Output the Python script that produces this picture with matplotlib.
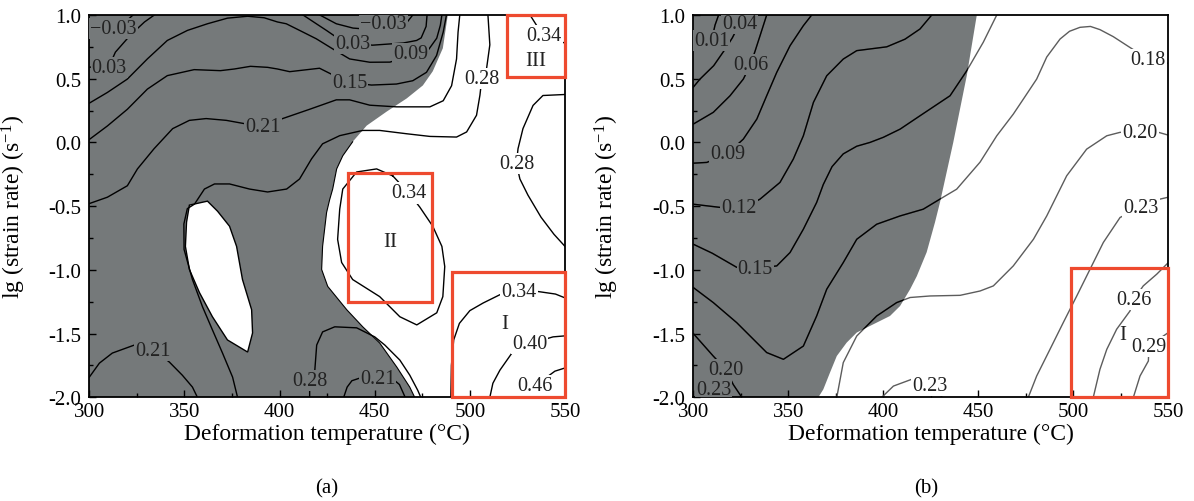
import matplotlib
matplotlib.use('Agg')
import matplotlib.pyplot as plt
from matplotlib.patches import Polygon, Rectangle
from matplotlib.path import Path
from matplotlib.ticker import MultipleLocator

plt.rcParams['font.family'] = ['Liberation Serif', 'DejaVu Serif']
plt.rcParams['mathtext.fontset'] = 'custom'
plt.rcParams['mathtext.rm'] = 'Liberation Serif'
plt.rcParams['mathtext.it'] = 'Liberation Serif:italic'

GRAY = '#75797a'
RED = '#ee4a2f'

# ---------------- panel (a) ----------------
# edge of the unstable (gray) domain, top -> bottom
a_edge = [(488.4, 1.0), (485.8, 0.739), (480.5, 0.558), (475.3, 0.447), (466.8, 0.345),
          (456.3, 0.242), (445.8, 0.132), (438.4, 0.005), (433.2, -0.105), (430.0, -0.208),
          (427.9, -0.366), (426.3, -0.45), (424.7, -0.55), (422.6, -0.816), (422.1, -0.997),
          (425.3, -1.13), (435.3, -1.313), (443.7, -1.447), (452.6, -1.574), (461.6, -1.763),
          (468.4, -1.92), (471.0, -2.0)]
# stable island inside the gray domain
a_island = [(352.6, -0.492), (362.1, -0.461), (367.4, -0.540), (373.7, -0.658), (377.4, -0.816),
            (380.5, -1.076), (385.3, -1.313), (385.8, -1.495), (383.2, -1.645), (372.6, -1.55),
            (364.7, -1.368), (357.9, -1.179), (352.6, -0.997), (350.5, -0.816), (351.1, -0.626)]

# efficiency iso-lines (T, lg strain rate)
a_m003_corner = [(300, 0.85), (312, 0.90), (320, 0.96), (323, 1.0)]
a_003_left = [(300, 0.59), (310.5, 0.60), (313.7, 0.708), (321.6, 0.842), (329, 0.945), (334.2, 1.0)]
a_m003_top = [(421.1, 1.0), (429.8, 0.931), (438.6, 0.897), (443, 0.892), (454.5, 0.90),
              (465.8, 0.92), (470, 1.0)]
a_003_top = [(412.3, 1.0), (419.3, 0.931), (424.6, 0.879), (429, 0.834), (438.4, 0.775),
             (448.9, 0.763), (465, 0.78), (472, 0.80), (474.4, 0.82), (477, 0.91), (477.5, 1.0)]
a_009 = [(300, 0.308), (309.5, 0.392), (320, 0.497), (330.5, 0.655), (341, 0.80), (351.6, 0.879),
         (362.1, 0.931), (372.6, 0.975), (383.2, 0.99), (391.9, 0.978), (398.9, 0.945),
         (403.5, 0.931), (410.5, 0.879), (419.3, 0.813), (427.9, 0.734), (436.8, 0.655),
         (447.4, 0.629), (458, 0.63), (468.9, 0.68), (477.9, 0.72), (482.6, 0.818),
         (484.5, 0.92), (485.3, 1.0)]
a_015 = [(300, 0.023), (309.5, 0.129), (320, 0.26), (330.5, 0.418), (341, 0.524), (355.1, 0.571),
         (368.9, 0.563), (376.2, 0.576), (384.7, 0.597), (393.7, 0.589), (398.9, 0.576),
         (405.3, 0.555), (421, 0.582), (427, 0.537), (436.8, 0.471), (448.3, 0.45),
         (461.4, 0.458), (470, 0.484), (477.2, 0.55), (482.5, 0.682), (486, 0.866), (487.7, 1.0)]
a_021 = [(300, -0.48), (309.5, -0.43), (320, -0.34), (325.3, -0.208), (334, -0.05),
         (343.8, 0.108), (352.6, 0.173), (361.4, 0.187), (372, 0.173), (381.6, 0.147),
         (391.3, 0.128), (401.6, 0.187), (415.8, 0.26), (429.8, 0.334), (436.8, 0.334),
         (447.4, 0.292), (461.4, 0.279), (479, 0.279), (486, 0.327), (490.4, 0.445),
         (493, 0.655), (493.8, 0.866), (494.7, 1.0)]
a_021_low = [(300, -1.842), (305.3, -1.732), (312.1, -1.653), (323.7, -1.59), (333.2, -1.62),
             (342.1, -1.724), (348.9, -1.827), (354.2, -1.92), (356.8, -2.0)]
a_021_bottom = [(433.7, -2.0), (435.5, -1.92), (438, -1.87), (444, -1.84), (452, -1.835),
                (459, -1.85), (463, -1.9), (466, -2.0)]
a_028 = [(377.9, -2.0), (375.3, -1.842), (370, -1.653), (364.7, -1.471), (359.5, -1.29),
         (354.2, -1.076), (349.8, -0.84), (349.7, -0.64), (351.5, -0.52), (355.3, -0.484),
         (360.5, -0.366), (365.8, -0.326), (373.7, -0.326), (384.2, -0.366), (393.7, -0.389),
         (403.7, -0.366), (410.5, -0.287), (416.8, -0.129), (422.6, -0.011), (431.6, 0.053),
         (443.7, 0.094), (452.6, 0.094), (466.7, 0.068), (479, 0.047), (493, 0.042),
         (498.3, 0.082), (503.5, 0.213), (505.3, 0.371), (506.3, 0.503), (508.8, 0.582),
         (510.5, 0.766), (509.5, 1.0)]
a_028_bottom = [(415.8, -2.0), (415.8, -1.87), (418.4, -1.81), (419.5, -1.59), (422.6, -1.487),
                (429, -1.447), (440.5, -1.455), (450, -1.526), (455.3, -1.59), (463.2, -1.708),
                (468.4, -1.826), (472.6, -1.945), (474.2, -2.0)]
a_028_right = [(550, 0.376), (538.4, 0.368), (533.2, 0.29), (527.9, 0.108), (525.3, -0.05),
               (524.5, -0.168), (526.3, -0.287), (530.5, -0.413), (537.4, -0.587),
               (544.2, -0.721), (550, -0.816)]
a_034_loop = [(459.5, -0.263), (451, -0.208), (440.5, -0.232), (433.2, -0.366), (431.6, -0.524),
              (430.5, -0.761), (432.6, -0.942), (438.4, -1.076), (452.6, -1.21), (463.2, -1.368),
              (472.1, -1.432), (482.6, -1.337), (485.8, -1.21), (486.8, -0.974), (485.3, -0.816),
              (480.5, -0.658), (473.7, -0.508), (467.9, -0.397), (459.5, -0.263)]
a_034_low = [(490, -2.0), (490.3, -1.75), (491.5, -1.55), (494.5, -1.42), (500, -1.32),
             (507, -1.26), (515.8, -1.195), (525.8, -1.17), (535.8, -1.17), (545, -1.19),
             (550, -1.22)]
a_034_top = [(531.6, 1.0), (535, 0.92), (539, 0.842), (545, 0.80), (550, 0.78)]
a_040 = [(510.5, -2.0), (512.1, -1.89), (515.8, -1.787), (522.1, -1.653), (531.3, -1.58),
         (543.7, -1.526), (550, -1.518)]
a_046 = [(524.7, -2.0), (534.2, -1.91), (544.7, -1.795), (550, -1.77)]

a_labels = [('\u22120.03', 312.6, 0.89), ('0.03', 310.5, 0.59), ('\u22120.03', 454.5, 0.93),
            ('0.03', 438.4, 0.775), ('0.09', 468.9, 0.70), ('0.15', 436.8, 0.471),
            ('0.21', 391.3, 0.128), ('0.28', 506.3, 0.503), ('0.34', 539, 0.842),
            ('0.28', 524.5, -0.168), ('0.34', 467.9, -0.397), ('0.34', 525.8, -1.17),
            ('0.40', 531.3, -1.58), ('0.46', 534.2, -1.91), ('0.21', 333.2, -1.63),
            ('0.28', 415.8, -1.87), ('0.21', 451.6, -1.85)]
a_regions = [('III', 534.7, 0.645), ('II', 457.9, -0.776), ('I', 518.4, -1.42)]
# domains (x0, y0, width, height)
a_boxes = [(519.5, 0.515, 30.5, 0.485), (435.8, -1.25, 44.2, 1.011), (490.5, -2.0, 59.5, 0.987)]

# ---------------- panel (b) ----------------
b_edge = [(449.2, 1.0), (443.9, 0.523), (436.8, 0.0), (429.8, -0.471), (427.2, -0.626),
          (422.8, -0.862), (417.6, -1.05), (414.1, -1.152), (408.8, -1.284), (403.5, -1.362),
          (393.0, -1.44), (386.0, -1.492), (380.7, -1.571), (375.5, -1.676), (371.9, -1.807),
          (368.4, -1.938), (365.8, -2.0)]

b_001 = [(300, 0.76), (309.6, 0.80), (311.4, 0.92), (313.3, 1.0)]
b_004 = [(300, 0.434), (303.5, 0.497), (310.7, 0.602), (316.8, 0.733), (320.5, 0.82),
         (324.3, 0.93), (327, 1.0)]
b_006 = [(300, 0.144), (310.5, 0.236), (319.3, 0.366), (326.3, 0.497), (330.1, 0.611),
         (332.5, 0.717), (335.1, 0.837), (338.6, 1.0)]
b_009 = [(300, -0.163), (307.1, -0.157), (318, -0.088), (326.3, 0.026), (333.4, 0.183),
         (338.6, 0.366), (343.9, 0.55), (350.9, 0.759), (357.9, 0.916), (362.3, 1.0)]
b_012 = [(300, -0.485), (314.1, -0.51), (324.1, -0.508), (333.4, -0.459), (335.1, -0.445),
         (345.6, -0.314), (352.6, -0.131), (357.9, 0.052), (363.2, 0.314), (370.2, 0.523),
         (378.9, 0.654), (386, 0.72), (401.8, 0.75), (411.4, 0.81), (419.3, 0.89), (425.5, 1.0)]
b_015 = [(300, -0.799), (310, -0.87), (322.8, -0.98), (332.6, -0.99), (343.9, -0.969),
         (350.9, -0.864), (357.9, -0.681), (364.9, -0.471), (368.4, -0.33), (373, -0.19),
         (378.9, -0.09), (386, -0.03), (393, 0.0), (400, 0.04), (408.8, 0.104), (419.3, 0.209),
         (435.1, 0.366), (443.9, 0.562), (452.6, 0.786), (459.7, 1.0)]
b_018 = [(300, -1.139), (310.5, -1.257), (322.8, -1.414), (338.6, -1.649), (347.4, -1.702),
         (357.9, -1.598), (364.9, -1.362), (370.2, -1.152), (378.9, -0.943), (386, -0.76),
         (396.5, -0.642), (408.8, -0.577), (421, -0.524), (429.8, -0.445), (438.6, -0.367),
         (450.9, -0.155), (459.7, 0.052), (468.4, 0.222), (473.7, 0.34), (480.7, 0.497),
         (486, 0.67), (493, 0.811), (498, 0.872), (503.5, 0.903), (509, 0.91), (514, 0.885),
         (521, 0.83), (529.8, 0.745), (539.3, 0.654), (550, 0.62)]
b_020_left = [(300, -1.50), (310.5, -1.677), (317, -1.78), (321, -1.90), (325.5, -2.0)]
b_020 = [(375.5, -2.0), (378.9, -1.728), (386, -1.519), (396.5, -1.362), (407, -1.257),
         (414.1, -1.217), (424.6, -1.205), (440.4, -1.2), (450.9, -1.166), (457.9, -1.126),
         (468.4, -0.969), (479, -0.76), (486, -0.577), (493, -0.367), (496.5, -0.262),
         (507, -0.053), (517.6, 0.052), (524.6, 0.079), (535.1, 0.081), (544.6, 0.08),
         (550, 0.057)]
b_023_bottom = [(399.2, -2.0), (405.3, -1.912), (415.8, -1.854), (424.6, -1.91), (431, -2.0)]
b_023 = [(476.3, -2.0), (480.7, -1.833), (487.7, -1.624), (494.7, -1.414), (501.8, -1.205),
         (508.8, -0.995), (515.8, -0.785), (524.6, -0.589), (535.6, -0.508), (545.6, -0.445),
         (550, -0.43)]
b_026 = [(510.5, -2.0), (514, -1.781), (517.6, -1.624), (522.8, -1.466), (529.8, -1.323),
         (531.9, -1.231), (536.8, -1.126), (543.9, -1.034), (550, -0.943)]
b_029 = [(531.6, -2.0), (535.1, -1.833), (539.5, -1.715), (539.8, -1.6), (547.4, -1.519),
         (550, -1.492)]

b_labels = [('0.04', 324.3, 0.93), ('0.01', 309.6, 0.80), ('0.06', 330.1, 0.611),
            ('0.09', 318, -0.088), ('0.12', 324.1, -0.508), ('0.15', 332.6, -0.99),
            ('0.20', 317, -1.78), ('0.23', 310.6, -1.94), ('0.18', 539.3, 0.654),
            ('0.20', 535.1, 0.081), ('0.23', 535.6, -0.508), ('0.26', 531.9, -1.231),
            ('0.29', 539.8, -1.6), ('0.23', 424.6, -1.91)]
b_regions = [('I', 526, -1.506)]
b_boxes = [(498.8, -2.0, 51.2, 1.018)]


def setup_axes(ax, ylabel_x):
    ax.set_xlim(300, 550)
    ax.set_ylim(-2.0, 1.0)
    ax.xaxis.set_major_locator(MultipleLocator(50))
    ax.xaxis.set_minor_locator(MultipleLocator(25))
    ax.yaxis.set_major_locator(MultipleLocator(0.5))
    ax.yaxis.set_minor_locator(MultipleLocator(0.25))
    ax.yaxis.set_major_formatter(matplotlib.ticker.FormatStrFormatter('%.1f'))
    ax.tick_params(which='both', direction='in', top=False, right=False, labelsize=15, width=1.0)
    ax.tick_params(which='major', length=5)
    ax.tick_params(which='minor', length=3)
    ax.tick_params(axis='y', pad=6)
    for s in ax.spines.values():
        s.set_linewidth(1.3)
    ax.set_xlabel('Deformation temperature (\u00b0C)', fontsize=17, labelpad=1)
    ax.set_ylabel('lg (strain rate) (s$^{-1}$)', fontsize=17)
    ax.yaxis.set_label_coords(ylabel_x, 0.5)


def add_labels(ax, labels, in_gray):
    for txt, x, y in labels:
        bg = GRAY if in_gray((x, y)) else 'white'
        ax.text(x, y, txt, ha='center', va='center', fontsize=14.5, color='#222222',
                bbox=dict(boxstyle='square,pad=0.05', fc=bg, ec='none'), zorder=4, clip_on=True)


def add_regions(ax, regions, boxes):
    for txt, x, y in regions:
        ax.text(x, y, txt, ha='center', va='center', fontsize=15, color='#222222', zorder=5)
    for x0, y0, w, h in boxes:
        ax.add_patch(Rectangle((x0, y0), w, h, fill=False, ec=RED, lw=2.3, zorder=6, clip_on=False))


fig = plt.figure(figsize=(11.94, 5.02), dpi=100)
ax_a = fig.add_axes([0.0748, 0.2066, 0.3984, 0.7616])
ax_b = fig.add_axes([0.5807, 0.2066, 0.3978, 0.7616])

# ---- (a)
ax_a.set_facecolor(GRAY)
white_a = [a_edge[0]] + a_edge + [(550, -2.0), (550, 1.0)]
ax_a.add_patch(Polygon(white_a, closed=True, fc='white', ec='none', zorder=0.5))
ax_a.add_patch(Polygon(a_island, closed=True, fc='white', ec='k', lw=1.0, zorder=0.6))
edge_T, edge_y = zip(*a_edge[7:])
ax_a.plot(edge_T, edge_y, color='k', lw=0.8, zorder=1)
white_path_a = Path(white_a)
island_path = Path(a_island)

a_lines = [a_m003_corner, a_003_left, a_m003_top, a_003_top, a_009, a_015, a_021, a_021_low,
           a_021_bottom, a_028, a_028_bottom, a_028_right, a_034_loop, a_034_low, a_034_top,
           a_040, a_046]
for line in a_lines:
    T, lgE = zip(*line)
    ax_a.plot(T, lgE, color='k', lw=1.0, zorder=2)

add_labels(ax_a, a_labels,
           lambda p: not (white_path_a.contains_point(p) or island_path.contains_point(p)))
add_regions(ax_a, a_regions, a_boxes)
setup_axes(ax_a, -0.128)

# ---- (b)
ax_b.set_facecolor('white')
gray_b = [(300, 1.0)] + b_edge + [(300, -2.0)]
gray_patch = Polygon(gray_b, closed=True, fc=GRAY, ec='none', zorder=0.5)
ax_b.add_patch(gray_patch)
gray_path_b = Path(gray_b)

b_lines = [b_001, b_004, b_006, b_009, b_012, b_015, b_018, b_020_left, b_020, b_023_bottom,
           b_023, b_026, b_029]
for line in b_lines:
    T, lgE = zip(*line)
    ax_b.plot(T, lgE, color='#5c5c5c', lw=1.0, zorder=2)
    dark, = ax_b.plot(T, lgE, color='k', lw=1.0, zorder=2.1)
    dark.set_clip_path(gray_patch)

add_labels(ax_b, b_labels, gray_path_b.contains_point)
add_regions(ax_b, b_regions, b_boxes)
setup_axes(ax_b, -0.152)

fig.text(0.274, 0.026, '(a)', ha='center', va='center', fontsize=15)
fig.text(0.7755, 0.026, '(b)', ha='center', va='center', fontsize=15)

fig.savefig('out.png', dpi=100)
